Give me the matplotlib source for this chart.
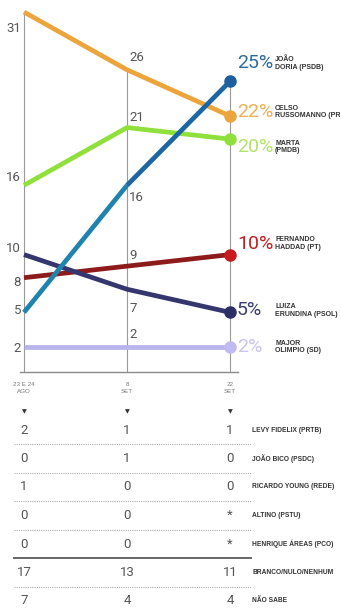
import matplotlib
matplotlib.use("Agg")
import matplotlib.pyplot as plt

# --- dados ---
datas = ["23 E 24\nAGO", "8\nSET", "22\nSET"]
candidatos = ["JOÃO\nDORIA (PSDB)", "CELSO\nRUSSOMANNO (PRB)", "MARTA\n(PMDB)",
              "FERNANDO\nHADDAD (PT)", "LUIZA\nERUNDINA (PSOL)", "MAJOR\nOLIMPIO (SD)"]
doria = [5, 16, 25]
russomanno = [31, 26, 22]
marta = [16, 21, 20]
haddad = [8, 9, 10]
erundina = [10, 7, 5]
major = [2, 2, 2]
series = [doria, russomanno, marta, haddad, erundina, major]

outros = ["LEVY FIDELIX (PRTB)", "JOÃO BICO (PSDC)", "RICARDO YOUNG (REDE)", "ALTINO (PSTU)",
          "HENRIQUE ÁREAS (PCO)", "BRANCO/NULO/NENHUM", "NÃO SABE"]
outros_ago = ["2", "0", "1", "0", "0", "17", "7"]
outros_set8 = ["1", "1", "0", "0", "0", "13", "4"]
outros_set22 = ["1", "0", "0", "*", "*", "11", "4"]

# --- estilo ---
cor_linha = ["#1b66a3", "#eba53c", "#90e03c", "#8e1b1b", "#36366f", "#b8b2ee"]
cor_ponto = ["#1b5f9c", "#eba53c", "#90e03c", "#c8191e", "#2f2f68", "#c0baf2"]
cor_pct = ["#2c6b9e", "#eeb055", "#b0e468", "#c41e22", "#3c3c74", "#c9c4ee"]
# deslocamentos verticais (px) dos rotulos
off_esq = [2, -16, 8, -5, 6, -1]
off_meio = [-12, 12, 10, 11, -19, 12]
off_dir = [18, 4, -8, 11, 2, 0]
CINZA = "#555555"
NUM = ["Roboto", "DejaVu Sans"]
ROT = ["Liberation Sans", "DejaVu Sans"]

fig = plt.figure(figsize=(3.41, 6.10), dpi=100)
ax = fig.add_axes([0, 0, 1, 1])
ax.set_xlim(-24 / 103, (341 - 24) / 103)
ax.set_ylim(2 - 263 / 11.55, 2 + 347 / 11.55)
ax.axis("off")
x = [0, 1, 2]
y_base = 2 - 25 / 11.55   # linha de base do grafico

# eixos verticais e base
for i in x:
    topo = max(s[i] for s in series)
    ax.plot([i, i], [y_base, topo], color="#9a9a9a", lw=0.8, zorder=1)
ax.plot([-0.04, 2.08], [y_base, y_base], color="#8a8a8a", lw=1.0, zorder=1)

for k, s in enumerate(series):
    if k == 0:
        ax.plot(x[:2], s[:2], color="#1f84ad", lw=3.4, solid_capstyle="butt", zorder=3)
        ax.plot(x[1:], s[1:], color=cor_linha[k], lw=3.4, solid_capstyle="butt", zorder=3)
    else:
        ax.plot(x, s, color=cor_linha[k], lw=3.4, solid_capstyle="butt", zorder=2 + k * 0.1)
    ax.plot(x[-1], s[-1], "o", color=cor_ponto[k], ms=8, zorder=5)
    ax.annotate(str(s[0]), (0, s[0]), xytext=(-3, off_esq[k]), textcoords="offset pixels",
                ha="right", va="center", color=CINZA, fontsize=9.5, family=NUM)
    ax.annotate(str(s[1]), (1, s[1]), xytext=(2, off_meio[k]), textcoords="offset pixels",
                ha="left", va="center", color=CINZA, fontsize=9.5, family=NUM)
    ax.annotate("%d%%" % s[2], (2, s[2]), xytext=(7, off_dir[k]), textcoords="offset pixels",
                ha="left", va="center", color=cor_pct[k], fontsize=14, family=NUM)
    ax.annotate(candidatos[k], (2, s[2]), xytext=(45, off_dir[k]), textcoords="offset pixels",
                ha="left", va="center", color="#333333", linespacing=1.1,
                fontsize=5, family=ROT, fontweight="bold")

# --- tabela ---
tb = fig.add_axes([0, 0, 1, 1])
tb.set_xlim(ax.get_xlim())
tb.set_ylim(610, 0)
tb.axis("off")
for i, d in enumerate(datas):
    tb.text(i, 388, d, ha="center", va="center", color="#777777", linespacing=1.3,
            fontsize=4.5, family=ROT)
    tb.text(i, 412, "▼", ha="center", va="center", fontsize=4.5, color="#333333")

y0, dy = 430, 28.5
for r, nome in enumerate(outros):
    yy = y0 + r * dy
    for i, col in enumerate([outros_ago, outros_set8, outros_set22]):
        tb.text(i, yy, col[r], ha="center", va="center", color=CINZA, fontsize=9.5, family=NUM)
    tb.text(2.215, yy, nome, ha="left", va="center", color="#333333",
            fontsize=4.8, family=ROT, fontweight="bold")
    if r < len(outros) - 1:
        ys = yy + dy / 2
        if r == 4:
            tb.plot([-0.1, 2.2], [ys, ys], color="#666666", lw=1.4)
        else:
            tb.plot([-0.1, 2.2], [ys, ys], color="#aaaaaa", lw=0.8, ls=(0, (1, 1)))

fig.savefig("out.png", dpi=100)
